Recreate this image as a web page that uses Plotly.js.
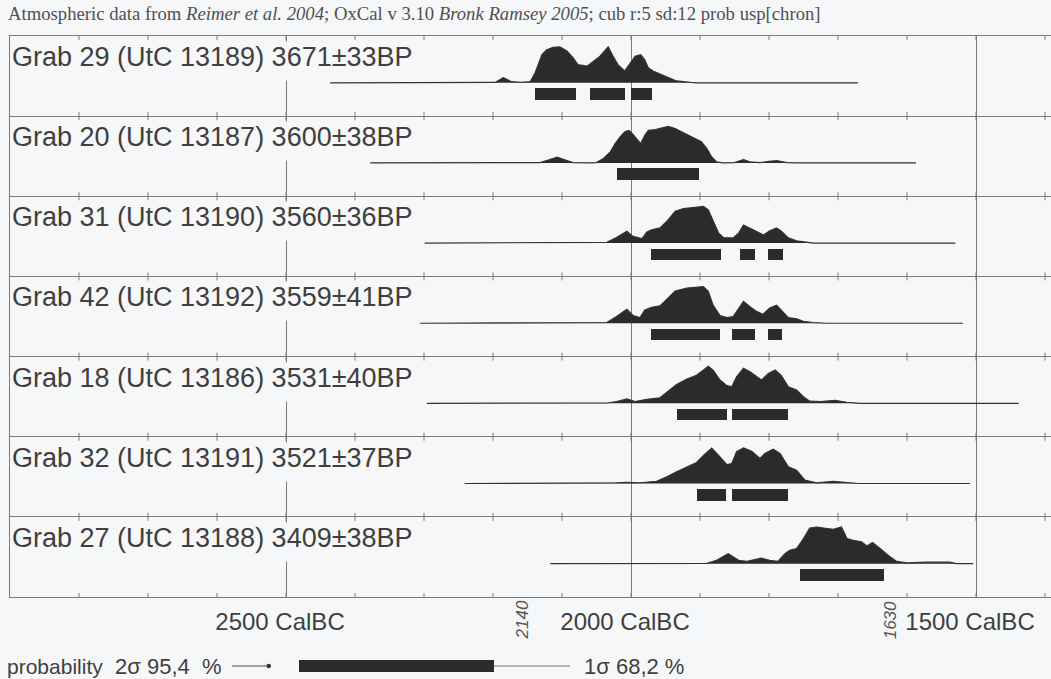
<!DOCTYPE html>
<html>
<head>
<meta charset="utf-8">
<script src="https://cdn.plot.ly/plotly-3.0.1.min.js"></script>
<style>html,body{margin:0;padding:0;background:#f6f7f9;}#chart{width:1051px;height:679px;}</style>
</head>
<body>
<div id="chart"></div>
<script>
// ---------------- DATA (calendar years BC, relative probability %) ----------------
const labels = [
  'Grab 29 (UtC 13189) 3671±33BP',
  'Grab 20 (UtC 13187) 3600±38BP',
  'Grab 31 (UtC 13190) 3560±36BP',
  'Grab 42 (UtC 13192) 3559±41BP',
  'Grab 18 (UtC 13186) 3531±40BP',
  'Grab 32 (UtC 13191) 3521±37BP',
  'Grab 27 (UtC 13188) 3409±38BP'
];

const years29 = [2436,2205,2197,2185,2173,2160,2146,2139,2134,2129,2122,2113,2103,2093,2084,2077,2064,2057,2045,2038,2033,2026,2019,2009,2001,1994,1986,1980,1975,1968,1956,1946,1934,1914,1905,1671];
const prob29  = [0,0,1,14,3,1,3,27,54,76,89,96,97,86,68,49,45,54,72,86,97,72,49,32,54,72,76,62,41,32,22,14,5,1,0,0];

const years20 = [2378,2145,2132,2120,2107,2095,2084,2060,2050,2040,2030,2023,2016,2009,2003,1997,1989,1986,1980,1975,1965,1956,1946,1936,1927,1917,1907,1898,1890,1883,1876,1867,1850,1837,1828,1813,1800,1789,1774,1760,1587];
const prob20  = [0,0,1,8,16,8,1,0,1,12,30,52,70,84,88,77,57,52,75,88,90,95,99,93,84,75,66,57,39,16,3,0,1,9,3,1,4,6,1,0,0];

const years31 = [2299,2130,2115,2095,2080,2050,2035,2021,2006,1997,1984,1977,1970,1958,1948,1936,1924,1910,1895,1888,1881,1873,1866,1852,1844,1837,1828,1816,1808,1799,1789,1782,1772,1760,1745,1736,1530];
const prob31  = [0,0,2,2,0,0,2,15,32,18,12,30,36,41,59,86,93,96,99,90,59,27,15,14,27,49,41,30,22,33,41,32,14,6,3,0,0];

const years42 = [2306,2130,2115,2095,2080,2050,2035,2021,2006,1997,1987,1980,1970,1958,1946,1936,1919,1905,1895,1888,1881,1871,1861,1852,1844,1837,1828,1818,1809,1799,1789,1782,1772,1760,1750,1736,1716,1519];
const prob42  = [0,0,2,2,0,0,2,18,38,21,15,36,43,47,68,87,95,98,99,86,49,21,15,18,41,59,45,32,24,41,49,36,15,12,5,2,0,0];

const years18 = [2296,2070,2055,2035,2021,2006,1994,1977,1958,1943,1934,1919,1905,1895,1888,1881,1871,1861,1854,1847,1837,1828,1818,1811,1801,1791,1782,1772,1760,1750,1741,1726,1704,1687,1668,1438];
const prob18  = [0,0,1,1,5,12,5,11,15,36,51,66,76,90,100,90,63,48,45,72,95,86,72,63,81,90,75,45,36,18,6,5,8,3,0,0];

const years32 = [2241,2040,2021,2006,1987,1963,1948,1934,1919,1905,1895,1883,1873,1861,1854,1847,1837,1825,1813,1806,1794,1784,1772,1760,1748,1731,1707,1687,1670,1509];
const prob32  = [0,0,2,3,2,6,18,32,45,57,76,96,76,51,54,86,96,87,68,81,93,81,45,36,9,2,6,2,0,0];

const years27 = [2117,1900,1890,1876,1859,1844,1832,1811,1799,1787,1777,1770,1760,1750,1741,1731,1716,1707,1695,1687,1678,1666,1658,1650,1639,1627,1615,1600,1571,1538,1528,1504];
const prob27  = [0,0,1,9,27,9,6,15,9,6,27,36,41,68,96,99,96,93,99,68,63,59,48,57,41,22,6,2,4,4,0,0];

// 1 sigma (68.2 %) ranges, BC  [from, to]
const sigma29 = [[2139,2079],[2059,2009],[2000,1969]];
const sigma20 = [[2020,1901]];
const sigma31 = [[1971,1870],[1842,1820],[1802,1780]];
const sigma42 = [[1971,1871],[1853,1821],[1802,1781]];
const sigma18 = [[1933,1861],[1853,1772]];
const sigma32 = [[1904,1862],[1853,1772]];
const sigma27 = [[1755,1633]];

const tickYears = [2500,2000,1500];
const tickText  = ['2500 CalBC','2000 CalBC','1500 CalBC'];
const minorTicks = [2800,2700,2600,2500,2400,2300,2200,2100,2000,1900,1800,1700,1600,1500,1400];
const markYears = [2140,1630];

// ---------------- BUILD ----------------
const yearsAll = [years29,years20,years31,years42,years18,years32,years27];
const probAll  = [prob29,prob20,prob31,prob42,prob18,prob32,prob27];
const sigmaAll = [sigma29,sigma20,sigma31,sigma42,sigma18,sigma32,sigma27];

const N = labels.length;
const ROWPX = 561 / N;             // pixel height of one row
const BASE_OFF = 46.8 / ROWPX;     // baseline below row top
const PEAK = 37 / ROWPX;           // height of 100 %
const BAR_C = 11.25 / ROWPX;       // bar centre below baseline
const BAR_W = 11.5 / ROWPX;

const GRID = '#7a7a7a';
const INK = '#2b2b2b';
const TXT = '#3f3f3f';
const BG = '#f6f7f9';
const SANS = 'Liberation Sans, Arial, sans-serif';

const traces = [];
const barY = [], barBase = [], barLen = [];
for (let i = 0; i < N; i++) {
  const top = N - i;
  const base = top - BASE_OFF;
  traces.push({
    type: 'scatter', mode: 'lines',
    x: yearsAll[i],
    y: probAll[i].map(p => base + p / 100 * PEAK),
    fill: 'toself', fillcolor: INK,
    line: {color: '#333', width: 1.2},
    hoverinfo: 'skip', showlegend: false
  });
  sigmaAll[i].forEach(r => {
    barY.push(base - BAR_C);
    barBase.push(r[0]);
    barLen.push(r[1] - r[0]);
  });
}
traces.push({
  type: 'bar', orientation: 'h',
  y: barY, base: barBase, x: barLen, width: BAR_W,
  marker: {color: INK, line: {width: 0}},
  hoverinfo: 'skip', showlegend: false
});

const shapes = [];
for (let b = 0; b <= N; b++) {
  minorTicks.forEach(yr => {
    shapes.push({type: 'line', xref: 'x', yref: 'y', ysizemode: 'pixel', yanchor: b,
      x0: yr, x1: yr, y0: -4, y1: 4, line: {color: GRID, width: 1}});
  });
}
// legend glyphs
const px2x = p => (p - 10) / 1041;
const py2y = p => (597 - p) / 561;
shapes.push({type: 'line', xref: 'paper', yref: 'paper', x0: px2x(232), x1: px2x(268), y0: py2y(666), y1: py2y(666), line: {color: '#555', width: 1}});
shapes.push({type: 'circle', xref: 'paper', yref: 'paper', x0: px2x(266.5), x1: px2x(271), y0: py2y(663.8), y1: py2y(668.2), fillcolor: '#333', line: {width: 0}});
shapes.push({type: 'rect', xref: 'paper', yref: 'paper', x0: px2x(299), x1: px2x(494), y0: py2y(660), y1: py2y(672), fillcolor: INK, line: {width: 0}});
shapes.push({type: 'line', xref: 'paper', yref: 'paper', x0: px2x(494), x1: px2x(570), y0: py2y(666), y1: py2y(666), line: {color: '#777', width: 1}});

const annotations = labels.map((t, i) => ({
  text: t, xref: 'paper', yref: 'y', x: 0, y: N - i,
  xanchor: 'left', yanchor: 'top', xshift: 1, yshift: -5,
  width: 404, height: 38, align: 'left', valign: 'top',
  showarrow: false, bgcolor: BG, borderpad: 0,
  font: {family: SANS, size: 27, color: TXT}
}));
markYears.forEach((yr, k) => {
  annotations.push({
    text: String(yr), xref: 'x', yref: 'paper', x: yr, y: py2y(620),
    xanchor: 'center', yanchor: 'middle', xshift: k === 0 ? -12 : 4,
    textangle: -90, showarrow: false,
    font: {family: SANS, size: 17, color: '#555', style: 'italic'}
  });
});
[['probability', 5, 21], ['2σ 95,4\u00a0\u00a0%', 113, 22], ['1σ 68,2 %', 582, 22]].forEach(([t, p, fs]) => {
  annotations.push({text: t, xref: 'paper', yref: 'paper', x: px2x(p), y: py2y(666),
    xanchor: 'left', yanchor: 'middle', showarrow: false,
    font: {family: SANS, size: fs, color: TXT}});
});

const layout = {
  width: 1051, height: 679,
  paper_bgcolor: BG, plot_bgcolor: BG,
  margin: {l: 10, r: 0, t: 36, b: 82},
  title: {
    text: 'Atmospheric data from <i>Reimer et al. 2004</i>; OxCal v 3.10 <i>Bronk Ramsey 2005</i>; cub r:5 sd:12 prob usp[chron]',
    xref: 'container', yref: 'container', x: 8 / 1051, xanchor: 'left', y: 1 - 13 / 679, yanchor: 'middle',
    font: {family: 'Liberation Serif, Times New Roman, serif', size: 18.7, color: '#505050'}
  },
  xaxis: {
    range: [2900, 1391.3], tickvals: tickYears, ticktext: tickText,
    showgrid: true, gridcolor: GRID, gridwidth: 1, zeroline: false,
    showline: true, linecolor: GRID, linewidth: 1, mirror: true,
    ticks: '', ticklabelstandoff: 3, ticklabelshift: 6,
    tickfont: {family: SANS, size: 24, color: TXT}, fixedrange: true
  },
  yaxis: {
    range: [0, N], tickvals: [1, 2, 3, 4, 5, 6], showticklabels: false,
    showgrid: true, gridcolor: GRID, gridwidth: 1, zeroline: false,
    showline: true, linecolor: GRID, linewidth: 1, mirror: false, ticks: '', fixedrange: true
  },
  showlegend: false, bargap: 0,
  shapes: shapes, annotations: annotations
};

Plotly.newPlot('chart', traces, layout, {displayModeBar: false, staticPlot: true});
</script>
</body>
</html>
